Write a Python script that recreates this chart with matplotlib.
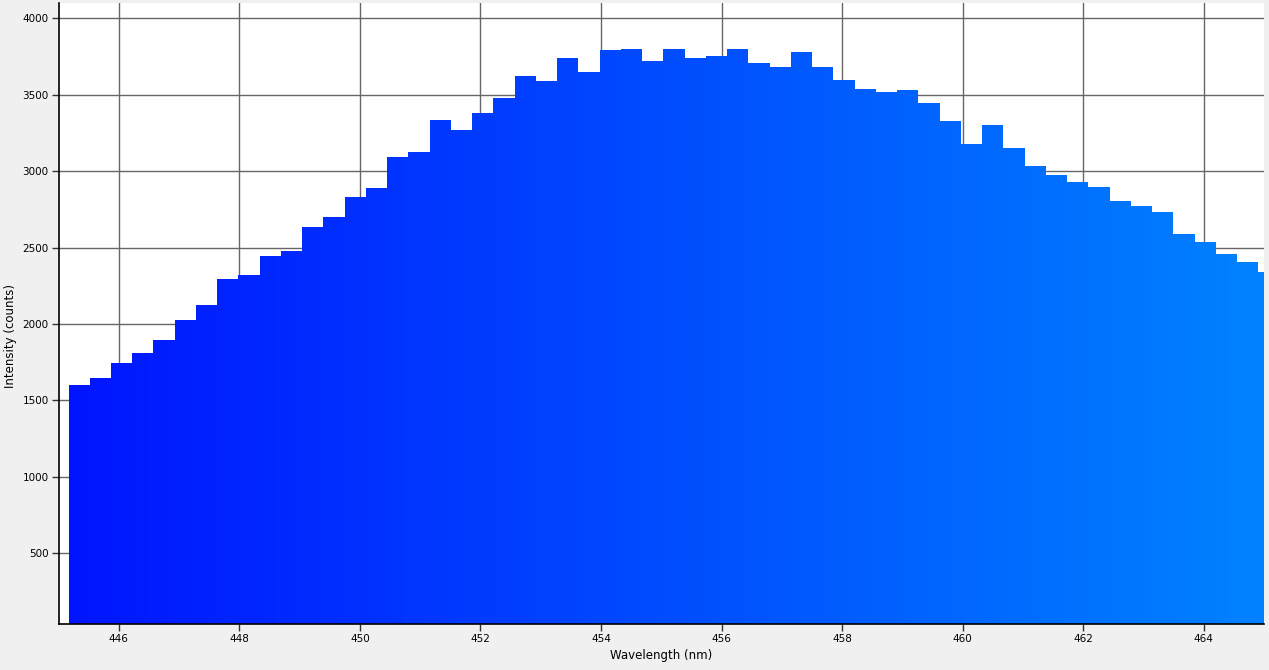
import numpy as np
import matplotlib
matplotlib.use("Agg")
import matplotlib.pyplot as plt
from matplotlib.colors import LinearSegmentedColormap

# spectrum readout: left edge of first pixel bin and bin width (nm)
start_nm = 445.166
bin_nm = 0.3525

# intensity per bin (counts)
intensity = [1601, 1647, 1745, 1811, 1896, 2027, 2125, 2295, 2321, 2446,
             2478, 2635, 2701, 2832, 2891, 3094, 3126, 3336, 3270, 3381,
             3479, 3623, 3589, 3740, 3649, 3793, 3799, 3721, 3799, 3740,
             3753, 3799, 3708, 3682, 3780, 3682, 3597, 3538, 3519, 3532,
             3447, 3329, 3178, 3303, 3152, 3034, 2976, 2930, 2898, 2806,
             2773, 2734, 2590, 2538, 2459, 2407, 2341]

x_ticks = [446, 448, 450, 452, 454, 456, 458, 460, 462, 464]
y_ticks = [500, 1000, 1500, 2000, 2500, 3000, 3500, 4000]

edges = start_nm + bin_nm * np.arange(len(intensity) + 1)
heights = np.append(intensity, intensity[-1])

fig = plt.figure(figsize=(12.69, 6.70), dpi=100, facecolor='#f0f0f0')
ax = fig.add_axes([0.0461, 0.0687, 0.9500, 0.9268])
ax.set_facecolor('white')

ax.set_xlim(445, 465)
ax.set_ylim(37, 4100)

# step outline of the bins, used as clip for the colour gradient
shape = ax.fill_between(edges, heights, 0, step='post', color='none', linewidth=0)

cmap = LinearSegmentedColormap.from_list('spec', ['#0014ff', '#004cff', '#0082ff'])
grad = np.linspace(0, 1, 512).reshape(1, -1)
im = ax.imshow(grad, cmap=cmap, aspect='auto', extent=[445, 465, 0, 4100],
               zorder=2, interpolation='bilinear')
im.set_clip_path(shape.get_paths()[0], transform=ax.transData)

ax.set_xticks(x_ticks)
ax.set_yticks(y_ticks)
ax.grid(True, color='#666666', linewidth=1.0, zorder=1)
ax.set_axisbelow(True)

for side in ['top', 'right']:
    ax.spines[side].set_visible(False)
for side in ['left', 'bottom']:
    ax.spines[side].set_color('black')
    ax.spines[side].set_linewidth(1.2)

ax.tick_params(axis='both', direction='out', length=5, width=1, color='#333333',
               labelsize=7.5, labelcolor='black', pad=2)
ax.set_xlabel('Wavelength (nm)', fontsize=8.5, labelpad=4)
ax.set_ylabel('Intensity (counts)', fontsize=8.5)
ax.yaxis.set_label_coords(-0.0345, 0.464)

fig.savefig('out.png', dpi=100, facecolor=fig.get_facecolor())
